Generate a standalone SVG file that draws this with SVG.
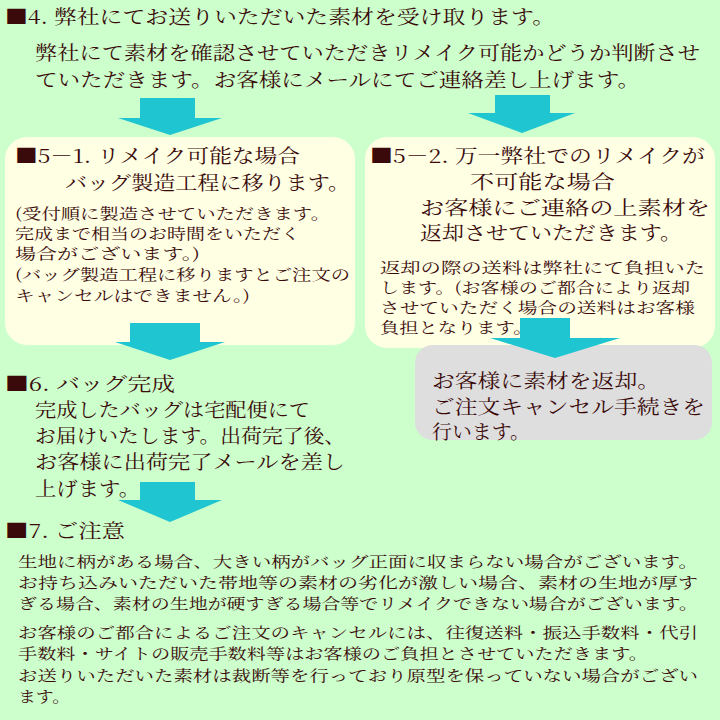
<svg xmlns="http://www.w3.org/2000/svg" width="720" height="720" viewBox="0 0 720 720">
<defs>
<style>
text{font-family:"Noto Serif CJK JP","Noto Sans CJK JP",serif;fill:#3a0a0a}
.b{font-size:19px}
.s{font-size:15px}
.box{fill:#ffffe4}
.arr{fill:#1fc6d2}
</style>
</defs>
<rect width="720" height="720" fill="#ccffcc"/>
<g id="connectors">
<path class="arr" d="M140,98h55v20h27l-52,17l-52,-17h22z"/>
<path class="arr" d="M495,95h55v18h25l-53,20l-54,-20h27z"/>
</g>
<g id="n4">
<text class="b" x="5" y="24" textLength="550" lengthAdjust="spacingAndGlyphs">■4. 弊社にてお送りいただいた素材を受け取ります。</text>
<text class="b" x="35" y="60" textLength="665" lengthAdjust="spacingAndGlyphs">弊社にて素材を確認させていただきリメイク可能かどうか判断させ</text>
<text class="b" x="35" y="87" textLength="605" lengthAdjust="spacingAndGlyphs">ていただきます。お客様にメールにてご連絡差し上げます。</text>
</g>
<g id="n51">
<rect class="box" x="5" y="137" width="350" height="208" rx="22"/>
<text class="b" x="15" y="163" textLength="285" lengthAdjust="spacingAndGlyphs">■5－1. リメイク可能な場合</text>
<text class="b" x="65" y="190" textLength="285" lengthAdjust="spacingAndGlyphs">バッグ製造工程に移ります。</text>
<text class="s" x="15" y="219" textLength="315" lengthAdjust="spacingAndGlyphs">(受付順に製造させていただきます。</text>
<text class="s" x="15" y="239" textLength="285" lengthAdjust="spacingAndGlyphs">完成まで相当のお時間をいただく</text>
<text class="s" x="15" y="259" textLength="185" lengthAdjust="spacingAndGlyphs">場合がございます。)</text>
<text class="s" x="15" y="280" textLength="335" lengthAdjust="spacingAndGlyphs">(バッグ製造工程に移りますとご注文の</text>
<text class="s" x="15" y="301" textLength="235" lengthAdjust="spacingAndGlyphs">キャンセルはできません。)</text>
</g>
<g id="n52">
<rect class="box" x="365" y="137" width="350" height="211" rx="22"/>
<text class="b" x="370" y="163" textLength="335" lengthAdjust="spacingAndGlyphs">■5－2. 万一弊社でのリメイクが</text>
<text class="b" x="470" y="189" textLength="145" lengthAdjust="spacingAndGlyphs">不可能な場合</text>
<text class="b" x="420" y="215" textLength="290" lengthAdjust="spacingAndGlyphs">お客様にご連絡の上素材を</text>
<text class="b" x="420" y="240" textLength="262" lengthAdjust="spacingAndGlyphs">返却させていただきます。</text>
<text class="s" x="380" y="273" textLength="325" lengthAdjust="spacingAndGlyphs">返却の際の送料は弊社にて負担いた</text>
<text class="s" x="380" y="293" textLength="310" lengthAdjust="spacingAndGlyphs">します。(お客様のご都合により返却</text>
<text class="s" x="380" y="313" textLength="315" lengthAdjust="spacingAndGlyphs">させていただく場合の送料はお客様</text>
<text class="s" x="380" y="333" textLength="150" lengthAdjust="spacingAndGlyphs">負担となります。)</text>
</g>
<g id="ngrey">
<rect x="415" y="345" width="297" height="95" rx="18" fill="#dedede"/>
<text class="b" x="432" y="388" textLength="228" lengthAdjust="spacingAndGlyphs">お客様に素材を返却。</text>
<text class="b" x="432" y="414" textLength="273" lengthAdjust="spacingAndGlyphs">ご注文キャンセル手続きを</text>
<text class="b" x="432" y="439" textLength="98" lengthAdjust="spacingAndGlyphs">行います。</text>
</g>
<g id="connectors2">
<path class="arr" d="M130,323h70v19h25l-55,18l-55,-18h15z"/>
<path class="arr" d="M520,318h50v20h50l-65,20l-65,-20h30z"/>
<path class="arr" d="M140,482h55v18h27l-52,22l-52,-22h22z"/>
</g>
<g id="n6">
<text class="b" x="5" y="391" textLength="170" lengthAdjust="spacingAndGlyphs">■6. バッグ完成</text>
<text class="b" x="35" y="417" textLength="275" lengthAdjust="spacingAndGlyphs">完成したバッグは宅配便にて</text>
<text class="b" x="35" y="443" textLength="310" lengthAdjust="spacingAndGlyphs">お届けいたします。出荷完了後、</text>
<text class="b" x="35" y="469" textLength="310" lengthAdjust="spacingAndGlyphs">お客様に出荷完了メールを差し</text>
<text class="b" x="35" y="496" textLength="105" lengthAdjust="spacingAndGlyphs">上げます。</text>
</g>
<g id="n7">
<text class="b" x="5" y="538" textLength="120" lengthAdjust="spacingAndGlyphs">■7. ご注意</text>
<text class="s" x="18" y="567" textLength="680" lengthAdjust="spacingAndGlyphs">生地に柄がある場合、大きい柄がバッグ正面に収まらない場合がございます。</text>
<text class="s" x="18" y="588" textLength="680" lengthAdjust="spacingAndGlyphs">お持ち込みいただいた帯地等の素材の劣化が激しい場合、素材の生地が厚す</text>
<text class="s" x="18" y="609" textLength="680" lengthAdjust="spacingAndGlyphs">ぎる場合、素材の生地が硬すぎる場合等でリメイクできない場合がございます。</text>
<text class="s" x="18" y="638" textLength="680" lengthAdjust="spacingAndGlyphs">お客様のご都合によるご注文のキャンセルには、往復送料・振込手数料・代引</text>
<text class="s" x="18" y="659" textLength="630" lengthAdjust="spacingAndGlyphs">手数料・サイトの販売手数料等はお客様のご負担とさせていただきます。</text>
<text class="s" x="18" y="681" textLength="680" lengthAdjust="spacingAndGlyphs">お送りいただいた素材は裁断等を行っており原型を保っていない場合がござい</text>
<text class="s" x="18" y="702" textLength="52" lengthAdjust="spacingAndGlyphs">ます。</text>
</g>
</svg>
